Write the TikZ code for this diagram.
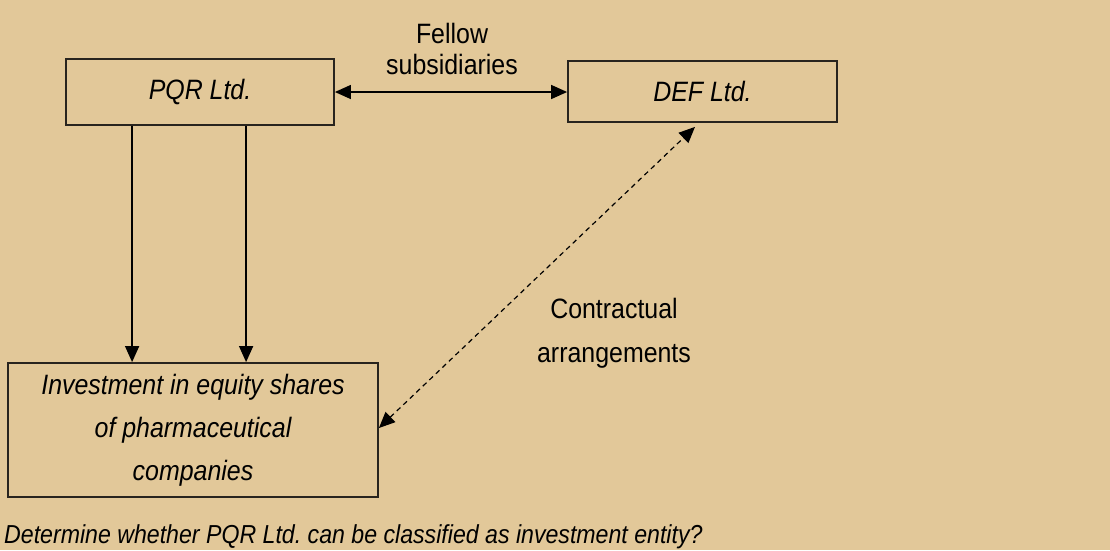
\documentclass[tikz,border=0pt]{standalone}
\usepackage{fontspec}
\setmainfont[FakeStretch=0.89]{Liberation Sans}
\usetikzlibrary{arrows.meta}
\definecolor{paper}{RGB}{226,200,153}
\definecolor{edge}{RGB}{40,36,30}
\frenchspacing
\begin{document}
\begin{tikzpicture}[x=1pt,y=-1pt,
  >={Triangle[length=16pt,width=14pt]},
  box/.style={draw=edge,line width=1.8pt,inner sep=0pt,align=center,
    font=\fontsize{28}{43}\selectfont\itshape},
  link/.style={line width=1.4pt,black},
  label/.style={inner sep=0pt,align=center,font=\fontsize{28}{44}\selectfont}]
  % canvas
  \fill[paper] (0,0) rectangle (1110,550);
  \useasboundingbox (0,0) rectangle (1110,550);

  % boxes
  \node[box,minimum width=268pt,minimum height=66pt] (pqr) at (200,92) {PQR Ltd.};
  \node[box,minimum width=269pt,minimum height=61pt] (def) at (702.5,91.5) {\raisebox{-3pt}{DEF Ltd.}};
  \node[box,minimum width=370pt,minimum height=134pt] (inv) at (193,430)
    {Investment in equity shares\\of pharmaceutical\\companies};

  % fellow subsidiaries link
  \draw[link,<->] (pqr.east) -- (pqr.east -| def.west);
  \node[label,font=\fontsize{28}{31}\selectfont] (fellow) at (452,49) {Fellow\\subsidiaries};

  % holdings from PQR into the investment box
  \coordinate (d1) at ([xshift=67pt]pqr.south west);
  \coordinate (d2) at ([xshift=181pt]pqr.south west);
  \draw[link,->] (d1) -- (d1 |- inv.north);
  \draw[link,->] (d2) -- (d2 |- inv.north);

  % contractual arrangements link
  \coordinate (c1) at ([yshift=2pt]inv.east);
  \coordinate (c2) at ([xshift=-7.5pt,yshift=-4pt]def.south);
  \draw[link,line width=1.2pt,dash pattern=on 5pt off 4pt,<->] (c1) -- (c2);
  \node[label] (contract) at (614,333) {Contractual\\arrangements};

  % question
  \node[anchor=base west,inner sep=0pt,font=\fontsize{26}{28}\selectfont\itshape] (question)
    at (4,543) {Determine whether PQR Ltd. can be classified as investment entity?};
\end{tikzpicture}
\end{document}
